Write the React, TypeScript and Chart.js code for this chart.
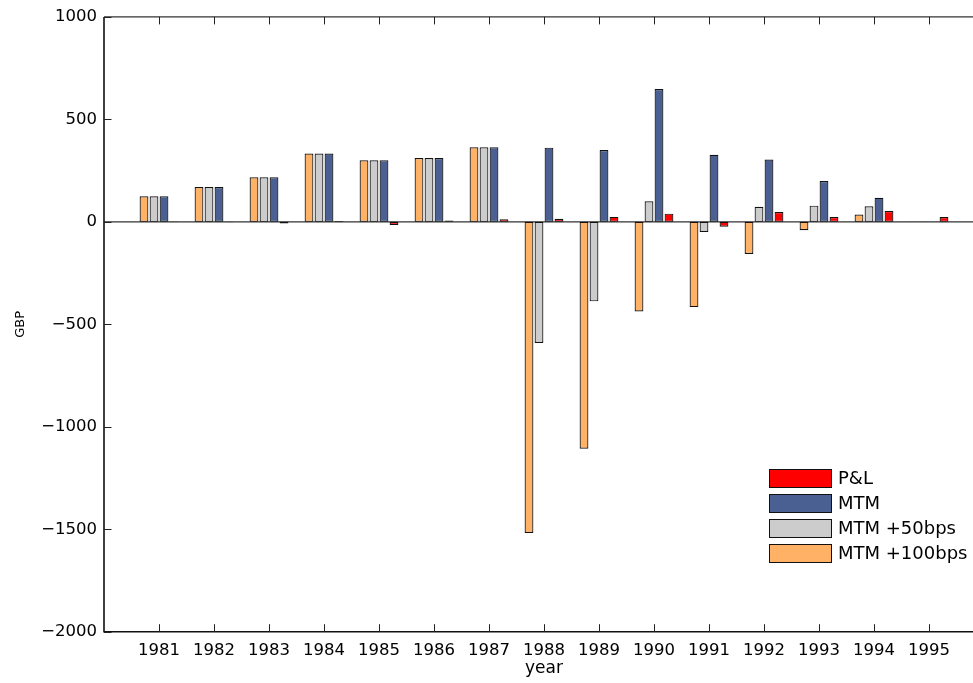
import React, { useEffect, useRef } from "react";
import { Chart, registerables } from "chart.js";

Chart.register(...registerables);

const years = [1981, 1982, 1983, 1984, 1985, 1986, 1987, 1988, 1989, 1990, 1991, 1992, 1993, 1994, 1995];
const mtm100 = [125, 170, 217, 333, 300, 311, 364, -1518, -1107, -437, -416, -157, -41, 36, 2];
const mtm50 = [125, 170, 217, 333, 300, 311, 364, -591, -388, 100, -49, 73, 79, 76, 2];
const mtm = [125, 170, 217, 333, 300, 311, 364, 362, 350, 648, 327, 304, 199, 117, 2];
const pnl = [-2, -2, -8, 4, -15, 6, 13, 15, 24, 40, -24, 48, 23, 53, 23];
const yTicks = [-2000, -1500, -1000, -500, 0, 500, 1000];

const seriesLabels = ["MTM +100bps", "MTM +50bps", "MTM", "P&L"];
const seriesColors = ["rgb(255,178,102)", "rgb(204,204,204)", "rgb(74,96,146)", "rgb(255,0,0)"];

const FONT = "'DejaVu Sans', sans-serif";

const framePlugin = {
  id: "frame",
  beforeDatasetsDraw(chart: any) {
    const { ctx, chartArea, scales } = chart;
    const y0 = scales.y.getPixelForValue(0);
    ctx.save();
    ctx.strokeStyle = "#333";
    ctx.lineWidth = 1.2;
    ctx.beginPath();
    ctx.moveTo(chartArea.left, y0);
    ctx.lineTo(chartArea.right, y0);
    ctx.stroke();
    ctx.restore();
  },
  afterDatasetsDraw(chart: any) {
    const { ctx, chartArea, scales } = chart;
    const { left, right, top, bottom } = chartArea;
    ctx.save();
    ctx.strokeStyle = "#111";
    ctx.lineWidth = 1.6;
    ctx.beginPath();
    ctx.moveTo(left, top);
    ctx.lineTo(left, bottom);
    ctx.lineTo(right, bottom);
    ctx.stroke();
    ctx.strokeStyle = "#333";
    ctx.lineWidth = 1.3;
    ctx.beginPath();
    ctx.moveTo(left, top);
    ctx.lineTo(right, top);
    ctx.stroke();
    ctx.lineWidth = 1;
    ctx.strokeStyle = "#222";
    ctx.beginPath();
    const tl = 7.5;
    years.forEach((yr) => {
      const x = Math.round(scales.x.getPixelForValue(yr)) + 0.5;
      ctx.moveTo(x, bottom);
      ctx.lineTo(x, bottom - tl);
      ctx.moveTo(x, top);
      ctx.lineTo(x, top + tl);
    });
    yTicks.forEach((v) => {
      const y = Math.round(scales.y.getPixelForValue(v)) + 0.5;
      ctx.moveTo(left, y);
      ctx.lineTo(left + tl, y);
    });
    ctx.stroke();

    // legend
    const ds = chart.data.datasets.slice().reverse();
    const bx = 769.5;
    const bw = 62;
    const bh = 18;
    const by0 = 469.5;
    const pitch = 25;
    ctx.font = "18px " + FONT;
    ctx.textBaseline = "middle";
    ctx.textAlign = "left";
    ds.forEach((d: any, i: number) => {
      const y = by0 + i * pitch;
      ctx.fillStyle = d.backgroundColor;
      ctx.fillRect(bx, y, bw, bh);
      ctx.strokeStyle = "#111";
      ctx.lineWidth = 1;
      ctx.strokeRect(bx, y, bw, bh);
      ctx.fillStyle = "#000";
      ctx.fillText(d.label, 838, y + bh / 2 + 1);
    });
    ctx.restore();
  },
};

export default function App() {
  const ref = useRef<HTMLCanvasElement | null>(null);
  useEffect(() => {
    if (!ref.current) return;
    const seriesData = [mtm100, mtm50, mtm, pnl];
    const chart = new Chart(ref.current, {
      type: "bar",
      data: {
        labels: years,
        datasets: seriesData.map((d, i) => ({
          label: seriesLabels[i],
          data: d,
          backgroundColor: seriesColors[i],
          borderColor: "#111",
          borderWidth: 1.2,
          borderSkipped: false,
          categoryPercentage: 0.727,
          barPercentage: 0.88,
        })),
      },
      options: {
        responsive: false,
        animation: false,
        layout: { padding: { left: 0, right: 16, top: 15.7, bottom: 0 } },
        plugins: {
          legend: { display: false },
          tooltip: { enabled: false },
        },
        scales: {
          x: {
            type: "linear",
            offset: false,
            min: 1980,
            max: 1996,
            grid: { display: false, drawTicks: false, offset: false },
            border: { display: false },
            afterBuildTicks: (s: any) => {
              s.ticks = years.map((v) => ({ value: v }));
            },
            afterFit: (s: any) => {
              s.height = 51.3;
            },
            ticks: {
              autoSkip: false,
              maxRotation: 0,
              padding: 9,
              color: "#000",
              font: { family: FONT, size: 16.5 },
              callback: (v: any) => String(v),
            },
            title: {
              display: true,
              text: "year",
              color: "#000",
              font: { family: FONT, size: 17 },
              padding: { top: 0, bottom: 4 },
            },
          },
          y: {
            min: -2000,
            max: 1000,
            grid: { display: false, drawTicks: false },
            border: { display: false },
            afterBuildTicks: (s: any) => {
              s.ticks = yTicks.map((v) => ({ value: v }));
            },
            afterFit: (s: any) => {
              s.width = 104;
            },
            ticks: {
              padding: 7,
              color: "#000",
              font: { family: FONT, size: 16.5 },
              callback: (v: any) => (v < 0 ? "\u2212" + Math.abs(v) : String(v)),
            },
            title: {
              display: true,
              text: "GBP",
              color: "#000",
              font: { family: FONT, size: 13 },
              padding: { top: 12.5, bottom: 0 },
            },
          },
        },
      },
      plugins: [framePlugin],
    });
    return () => chart.destroy();
  }, []);
  return (
    <div style={{ position: "fixed", left: 0, top: 0, width: 973, height: 683, overflow: "hidden", background: "#fff" }}>
      <canvas ref={ref} width={1000} height={683} style={{ display: "block", width: 1000, height: 683 }} />
    </div>
  );
}
